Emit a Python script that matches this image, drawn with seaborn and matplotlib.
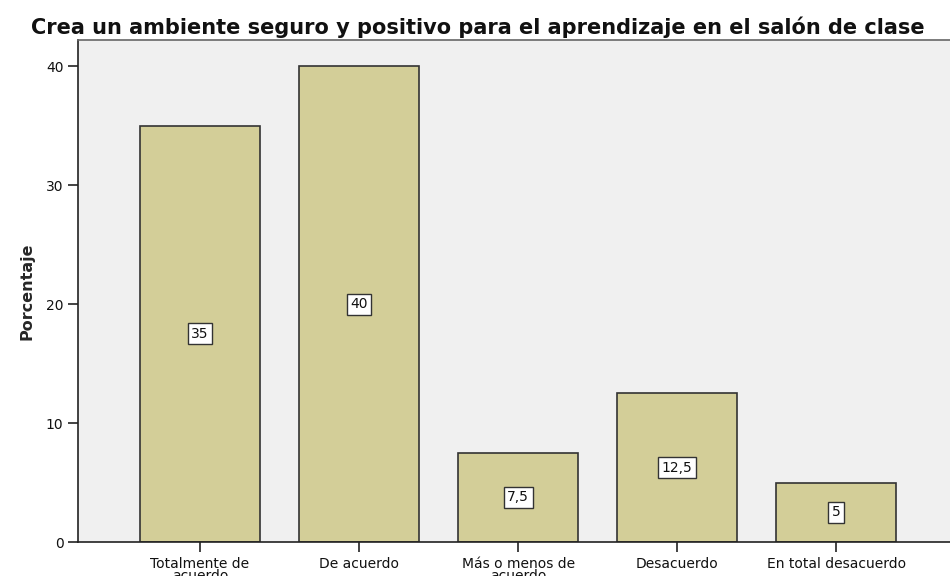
import pandas as pd
import numpy as np
import matplotlib
matplotlib.use('Agg')
import matplotlib.pyplot as plt
import seaborn as sns

# Datos
categorias = ['Totalmente de\nacuerdo', 'De acuerdo', 'Más o menos de\nacuerdo',
              'Desacuerdo', 'En total desacuerdo']
porcentaje = [35, 40, 7.5, 12.5, 5]
etiquetas = ['35', '40', '7,5', '12,5', '5']

data = pd.DataFrame({'Categoria': categorias, 'Porcentaje': porcentaje})

sns.set_style('ticks')
plt.rcParams['font.family'] = ['DejaVu Sans']

fig = plt.figure(figsize=(9.5, 5.76), dpi=100)
ax = fig.add_axes([0.0821, 0.059, 0.93, 0.8716])
ax.set_facecolor('#f0f0f0')

sns.barplot(data=data, x='Categoria', y='Porcentaje', color='#d3ce98',
            edgecolor='#333333', linewidth=1.2, width=0.755, saturation=1, ax=ax)

# etiquetas en el centro de cada barra
for i, (v, t) in enumerate(zip(porcentaje, etiquetas)):
    ax.text(i, v / 2, t, ha='center', va='center', fontsize=10, color='#111111',
            bbox=dict(boxstyle='square,pad=0.25', fc='white', ec='#333333', lw=1))

ax.set_xlim(-0.767, 4.787)
ax.set_ylim(0, 42.2)
ax.set_yticks([0, 10, 20, 30, 40])
ax.tick_params(axis='both', labelsize=10, length=7, width=1.2, color='#222222',
               labelcolor='#111111')
for lab in ax.get_xticklabels():
    lab.set_linespacing(0.9)
ax.set_xlabel('')
ax.set_ylabel('Porcentaje', fontsize=11.5, fontweight='bold', labelpad=8)
for s in ax.spines.values():
    s.set_color('#666666')
    s.set_linewidth(1.2)
ax.spines['left'].set_color('#222222')
ax.spines['bottom'].set_color('#222222')

fig.text(0.503, 0.953, 'Crea un ambiente seguro y positivo para el aprendizaje en el salón de clase',
         ha='center', va='center', fontsize=15, fontweight='bold', color='#111111')

plt.savefig('out.png', dpi=100)
